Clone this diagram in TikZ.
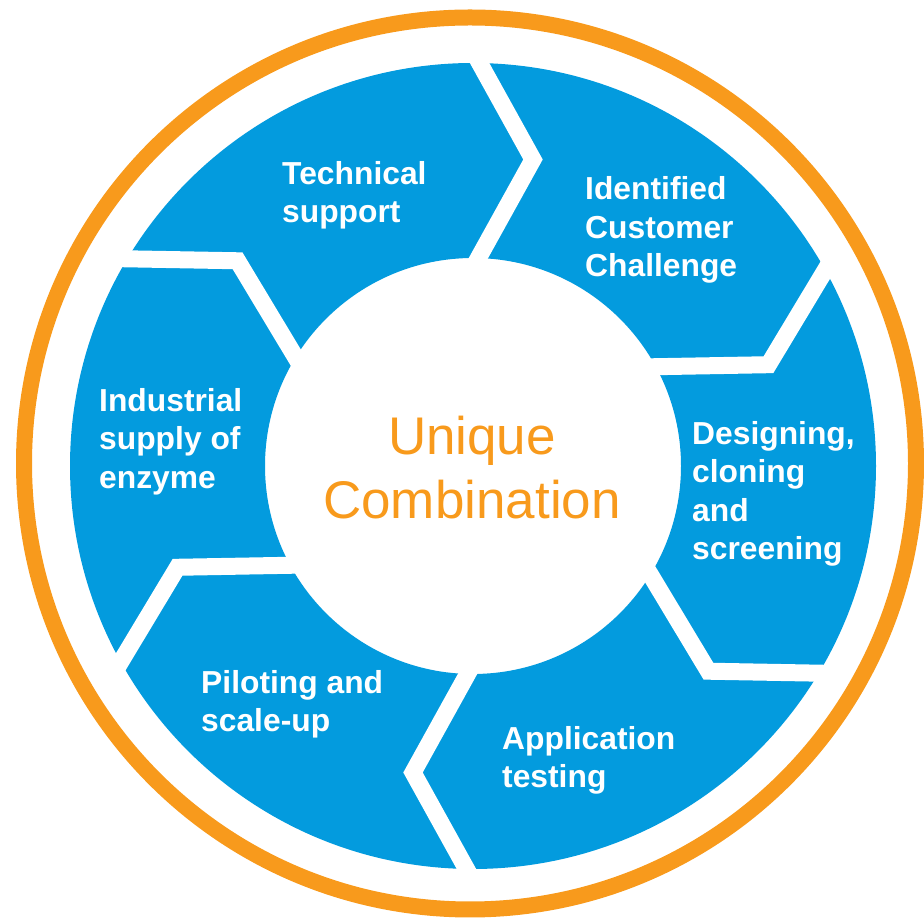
\documentclass[tikz,border=0pt]{standalone}
\usepackage{fontspec}
\setmainfont{Liberation Sans}
\definecolor{ringblue}{RGB}{3,155,222}
\definecolor{ringorange}{RGB}{248,154,28}
\begin{document}
\begin{tikzpicture}[x=1pt,y=1pt,
  steplabel/.style={text=white,font=\bfseries\fontsize{31.8}{38.3}\selectfont,align=left,anchor=west,inner sep=0pt},
  centerlabel/.style={text=ringorange,font=\fontsize{53}{64}\selectfont,align=center,inner sep=0pt},
  gapline/.style={white,line width=17pt,miter limit=10,line join=miter}]
\useasboundingbox (0,0) rectangle (924,923);
% orange outer ring
\draw[ringorange,line width=16pt] (470,459.5) circle (446);
% blue annulus
\fill[ringblue,even odd rule] (473,457) circle (403) (473,457) circle (208);
% chevron gaps
\foreach \k in {0,...,5}{
  \begin{scope}[shift={(473,457)},rotate=-60*\k]
    \draw[gapline] (-1.75,418) -- (60,306.5) -- (-1.75,195);
  \end{scope}
}
% labels
\node[steplabel] (tech) at (282,728) {Technical\\support};
\node[steplabel] (ident) at (585,693) {Identified\\Customer\\Challenge};
\node[steplabel] (design) at (692,429) {Designing,\\cloning\\and\\screening};
\node[steplabel] (appl) at (502,162.5) {Application\\testing};
\node[steplabel] (pilot) at (201,218.5) {Piloting and\\scale-up};
\node[steplabel] (indus) at (99,481.5) {Industrial\\supply of\\enzyme};
\node[centerlabel] (center) at (472,455) {Unique\\Combination};
\end{tikzpicture}
\end{document}
